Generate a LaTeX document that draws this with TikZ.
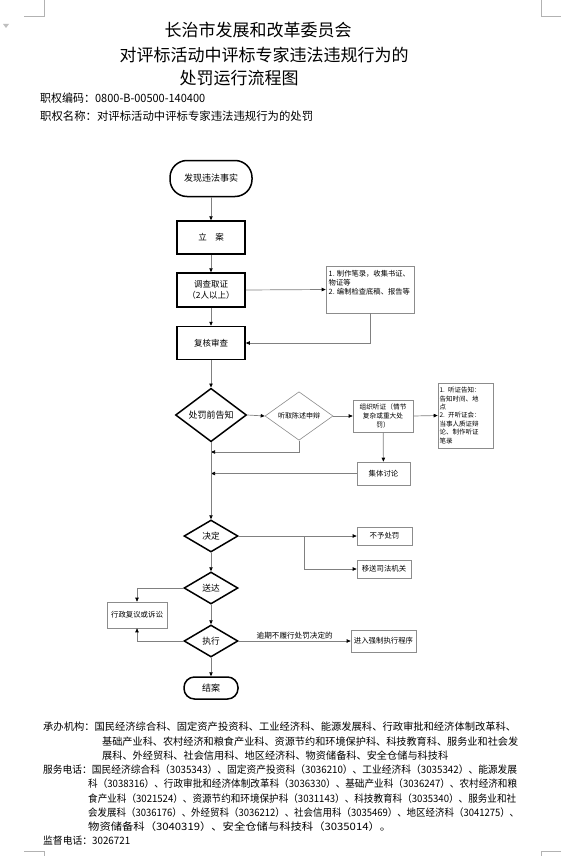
\documentclass[tikz,border=0pt]{standalone}
\usepackage{fontspec}
\usepackage{graphicx}
\setmainfont{Noto Sans CJK SC}
\usetikzlibrary{shapes.geometric,arrows.meta}
\definecolor{lc}{HTML}{808080}
\definecolor{bc}{HTML}{8C8C8C}
\newcommand\fsz[1]{\fontsize{#1}{#1}\selectfont}
\newcommand\fszb[2]{\fontsize{#1}{#2}\selectfont}
\newcommand\fitw[2]{\resizebox{#1}{\height}{#2}}
\begin{document}
\begin{tikzpicture}[x=1pt,y=-1pt,
  ln/.style={draw=lc, line width=0.7pt},
  arr/.style={ln, -{Triangle[length=4pt,width=3.4pt,color=black]}},
  thickbox/.style={draw=black, line width=1.5pt, rectangle, inner sep=0pt, minimum width=68pt, font=\fsz{8.5}, align=center},
  term/.style={draw=black, line width=1.5pt, rectangle, inner sep=0pt, font=\fsz{9}},
  thickdia/.style={draw=black, line width=1.5pt, diamond, inner sep=0pt, minimum width=54pt, minimum height=32pt, font=\fsz{8.7}},
  thinbox/.style={draw=bc, line width=0.6pt, rectangle, inner sep=0pt, font=\fsz{7.4}, align=center},
  thindia/.style={draw=bc, line width=0.6pt, diamond, inner sep=0pt, font=\fsz{7}},
  txt/.style={inner sep=0pt, anchor=west},
  cornermark/.style={draw=lightgray!80!gray, line width=0.6pt}
]
\useasboundingbox (0,0) rectangle (579,856);
\fill[white] (0,0) rectangle (579,856);

% page corner marks
\draw[cornermark] (44,0) -- (44,16) -- (24,16);
\draw[cornermark] (541,0) -- (541,16) -- (561,16);
\draw[cornermark] (24,851) -- (44,851) -- (44,856);
\draw[cornermark] (561,851) -- (541,851) -- (541,856);
\fill[lightgray] (3,24) -- (9,24) -- (6,28) -- cycle;

% titles
\node[inner sep=0pt, font=\fsz{17}] (t1) at (258,30) {长治市发展和改革委员会};
\node[inner sep=0pt, font=\fsz{17}] (t2) at (264,55) {对评标活动中评标专家违法违规行为的};
\node[inner sep=0pt, font=\fsz{17}] (t3) at (239,78) {处罚运行流程图};
\node[txt, font=\fsz{11.4}] (s1) at (40,98) {\fitw{165pt}{职权编码：0800-B-00500-140400}};
\node[txt, font=\fsz{11.4}] (s2) at (40,116) {\fitw{273pt}{职权名称：对评标活动中评标专家违法违规行为的处罚}};

% main column
\node[term, minimum width=82pt, minimum height=36pt, rounded corners=17pt] (start) at (211,178.5) {发现违法事实};
\node[thickbox, minimum height=33pt] (la) at (211,237.5) {立\quad 案};
\node[thickbox, minimum height=34pt, font=\fszb{8.5}{11}] (dc) at (211,290) {调查取证\\（2人以上）};
\node[thickbox, minimum height=33pt] (fh) at (211,343) {复核审查};
\node[thickdia, minimum width=71pt, minimum height=45pt, font=\fsz{9}] (cf) at (211,415) {处罚前告知};
\node[thickdia] (jd) at (211,536) {决定};
\node[thickdia] (sd) at (211,588) {送达};
\node[thickdia] (zx) at (211,641) {执行};
\node[term, minimum width=54pt, minimum height=22pt, rounded corners=10.5pt] (ja) at (211,688) {结案};

% side nodes
\node[thinbox, minimum width=88pt, minimum height=47pt] (note1) at (370,289.5) {};
\node[inner sep=0pt, anchor=north west, align=left, font=\fszb{7.3}{9.2}] (note1t) at (328.5,270) {1. 制作笔录，收集书证、\\物证等\\2. 编制检查底稿、报告等};
\node[thindia, minimum width=68pt, minimum height=38pt] (tq) at (299,416) {听取陈述申辩};
\node[thinbox, minimum width=60pt, minimum height=32pt, font=\fszb{6.7}{9}] (zz) at (383,416) {组织听证（情节\\复杂或重大处\\罚）};
\node[thinbox, minimum width=55pt, minimum height=65pt, text width=52pt, align=left, font=\fszb{6.5}{8.4}] (note2) at (465.5,415.5) {1. 听证告知：\\告知时间、地\\点\\2. 开听证会：\\当事人质证辩\\论、制作听证\\笔录};
\node[thinbox, minimum width=53pt, minimum height=23pt] (jt) at (383.5,473.5) {集体讨论};
\node[thinbox, minimum width=55pt, minimum height=18pt] (bc) at (384.5,536) {不予处罚};
\node[thinbox, minimum width=54pt, minimum height=18pt] (ys) at (384,569) {移送司法机关};
\node[thinbox, minimum width=60pt, minimum height=26pt] (fy) at (137,615) {行政复议或诉讼};
\node[thinbox, minimum width=65pt, minimum height=22pt] (qz) at (383.5,641) {进入强制执行程序};

\coordinate (m1) at (211,452);
\coordinate (m2) at (211,473.5);
\coordinate (b1) at (304,536);

% connectors
\draw[arr] (start) -- (la);
\draw[arr] (la) -- (dc);
\draw[arr] (dc.east) -- (note1.west);
\draw[arr] (dc) -- (fh);
\draw[arr] (note1.south) |- (fh.east);
\draw[arr] (fh) -- (cf);
\draw[arr] (cf.east) -- (tq.west);
\draw[arr] (tq.east) -- (zz.west);
\draw[arr] (zz.east) -- (note2.west);
\draw[arr] (tq.south) |- (m1);
\draw[arr] (zz) -- (jt);
\draw[arr] (jt.west) -- (m2);
\draw[arr] (cf.south) -- (jd.north);
\draw[arr] (jd.east) -- (bc.west);
\draw[arr] (b1) |- (ys.west);
\draw[arr] (jd.south) -- (sd.north);
\draw[arr] (sd.west) -| (fy.north);
\draw[arr] (sd.south) -- (zx.north);
\draw[arr] (zx.west) -| (fy.south);
\draw[arr] (zx.east) -- node[above=1.5pt, inner sep=0pt, font=\fsz{7.6}] (yq) {逾期不履行处罚决定的} (qz.west);
\draw[arr] (zx.south) -- (ja.north);

% bottom text
\node[txt, font=\fsz{10.2}] (b1t) at (43,727) {\fitw{473pt}{承办机构：国民经济综合科、固定资产投资科、工业经济科、能源发展科、行政审批和经济体制改革科、}};
\node[txt, font=\fsz{10.2}] (b2t) at (102,741.25) {\fitw{416pt}{基础产业科、农村经济和粮食产业科、资源节约和环境保护科、科技教育科、服务业和社会发}};
\node[txt, font=\fsz{10.2}] (b3t) at (102,755.5) {\fitw{346pt}{展科、外经贸科、社会信用科、地区经济科、物资储备科、安全仓储与科技科}};
\node[txt, font=\fsz{10.2}] (b4t) at (43,769.75) {\fitw{474pt}{服务电话：国民经济综合科（3035343）、固定资产投资科（3036210）、工业经济科（3035342）、能源发展}};
\node[txt, font=\fsz{10.2}] (b5t) at (88,784) {\fitw{429pt}{科（3038316）、行政审批和经济体制改革科（3036330）、基础产业科（3036247）、农村经济和粮}};
\node[txt, font=\fsz{10.2}] (b6t) at (88,798.25) {\fitw{428pt}{食产业科（3021524）、资源节约和环境保护科（3031143）、科技教育科（3035340）、服务业和社}};
\node[txt, font=\fsz{10.2}] (b7t) at (88,812.5) {\fitw{431pt}{会发展科（3036176）、外经贸科（3036212）、社会信用科（3035469）、地区经济科（3041275）、}};
\node[txt, font=\fsz{10.2}] (b8t) at (88,826.75) {\fitw{303pt}{物资储备科（3040319）、安全仓储与科技科（3035014）。}};
\node[txt, font=\fsz{10.2}] (b9t) at (43,841) {\fitw{87pt}{监督电话：3026721}};
\end{tikzpicture}
\end{document}
